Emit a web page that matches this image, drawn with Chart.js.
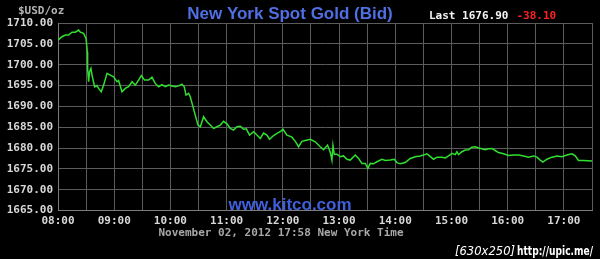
<!DOCTYPE html>
<html>
<head>
<meta charset="utf-8">
<script src="https://cdn.jsdelivr.net/npm/chart.js@4"></script>
<style>
  html, body { margin: 0; padding: 0; background: #000; }
  #wrap { width: 600px; height: 259px; position: relative; background: #000; }
  canvas { display: block; }
</style>
</head>
<body>
<div id="wrap"><canvas id="c" width="600" height="259" style="width:600px;height:259px"></canvas></div>
<script>
// Minutes after 08:00 New York time
const minutes = [
  0, 4.3, 7.8, 11.3, 14.9, 18.5, 22, 23.8, 27.3, 29.9,
  31.3, 31.6, 32.7, 33.7, 35.2, 36.3, 39.1, 41.6, 43.3, 46.2,
  48.7, 52.3, 55.8, 59.3, 63, 64.7, 68.3, 71.8, 75.3, 79,
  82.5, 86, 88.9, 92.4, 96.7, 100.3, 103.8, 107.4, 111, 114.5,
  118, 121.7, 125.2, 128.7, 132.3, 134.8, 136.6, 139.4, 141.2, 143.6,
  146.5, 149.4, 151.9, 155.4, 159, 162.5, 166.1, 169.7, 173.2, 176.7,
  180.4, 183.9, 187.4, 191, 194.6, 198.1, 201, 204.5, 208.8, 212.4,
  215.9, 219.4, 223, 225.8, 230.1, 233.7, 237.2, 240.1, 244.4, 249.7,
  253.3, 256.8, 260.4, 263.9, 269.3, 274.6, 279.9, 283.5, 287.7, 290.6,
  292.4, 293.5, 294.9, 297.8, 301.3, 304.8, 308.4, 311.9, 317.3, 320.8,
  324.4, 328, 330.8, 333.3, 336.8, 340.4, 345.8, 349.3, 354.6, 358.9,
  361.8, 365.3, 370.6, 376, 381.3, 386.6, 390.2, 393.8, 397.3, 400.8,
  404.5, 409.8, 413.3, 416.9, 420.5, 424, 425.8, 427.5, 431.2, 434.7,
  438.2, 441.8, 445.4, 448.9, 452.5, 456, 459.6, 463.2, 466.7, 470.2,
  475.6, 480.9, 486.2, 491.6, 496.9, 502.2, 507.6, 511.2, 514.7, 517.6,
  521.9, 527.2, 532.6, 537.9, 543.2, 548.6, 552.1, 555.6, 560.9, 570
];
// Bid price, USD per ounce
const prices = [
  1705.9, 1706.7, 1707.1, 1707.1, 1707.8, 1707.8, 1708.3, 1707.8, 1707.5, 1706.3,
  1703.1, 1699.1, 1695.9, 1698.3, 1699.1, 1697.5, 1694.7, 1695.0, 1694.3, 1693.5,
  1695.1, 1697.9, 1697.5, 1697.1, 1695.9, 1696.2, 1693.5, 1694.3, 1694.7, 1695.9,
  1695.1, 1696.3, 1697.4, 1696.3, 1696.3, 1697.0, 1695.5, 1694.7, 1695.2, 1694.7,
  1695.1, 1694.9, 1694.7, 1694.9, 1695.3, 1694.7, 1692.7, 1693.1, 1692.3, 1690.3,
  1687.9, 1685.5, 1685.1, 1687.5, 1686.3, 1685.5, 1684.7, 1685.1, 1685.5, 1686.4,
  1685.8, 1684.7, 1684.3, 1685.1, 1685.2, 1684.5, 1684.6, 1683.1, 1683.9, 1683.1,
  1682.3, 1683.6, 1683.1, 1682.1, 1683.0, 1683.5, 1683.9, 1684.5, 1683.1, 1682.6,
  1681.6, 1680.3, 1681.6, 1681.8, 1682.1, 1681.5, 1680.3, 1679.6, 1680.7, 1679.0,
  1677.1, 1680.6, 1678.5, 1678.5, 1677.9, 1678.1, 1677.3, 1677.1, 1678.3, 1677.5,
  1676.3, 1676.3, 1675.1, 1676.3, 1676.2, 1676.7, 1677.3, 1677.0, 1677.1, 1677.3,
  1676.5, 1676.2, 1676.5, 1677.5, 1677.9, 1678.1, 1678.3, 1678.6, 1678.0, 1677.3,
  1677.8, 1677.8, 1677.6, 1678.1, 1678.7, 1678.4, 1679.1, 1678.4, 1679.1, 1679.5,
  1679.6, 1680.2, 1680.3, 1680.0, 1679.8, 1679.6, 1679.8, 1679.9, 1679.4, 1678.9,
  1678.6, 1678.2, 1678.3, 1678.3, 1678.1, 1677.8, 1678.1, 1677.8, 1677.1, 1676.6,
  1677.3, 1677.8, 1678.1, 1677.9, 1678.3, 1678.6, 1678.1, 1677.0, 1677.0, 1676.9
];
const startHour = 8;
const xMin = 0, xMax = 570, xStep = 30;
const yMin = 1665, yMax = 1710, yStep = 5;

const titleText = 'New York Spot Gold (Bid)';
const unitText = '$USD/oz';
const lastText = 'Last 1676.90';
const changeText = '-38.10';
const siteText = 'www.kitco.com';
const dateText = 'November 02, 2012 17:58 New York Time';
const stampA = '[630x250]';
const stampB = 'http://upic.me/';

const mono = 'bold 11px "DejaVu Sans Mono", "Liberation Mono", monospace';

const textPlugin = {
  id: 'texts',
  afterDraw(chart) {
    const ctx = chart.ctx;
    ctx.save();
    ctx.textBaseline = 'alphabetic';
    // Title
    ctx.font = 'bold 17px "Liberation Sans", Arial, sans-serif';
    ctx.fillStyle = '#4f6fe3';
    ctx.textAlign = 'center';
    ctx.fillText(titleText, 290, 18.5);
    // unit
    ctx.font = mono;
    ctx.textAlign = 'left';
    ctx.fillStyle = '#b4b4b4';
    ctx.fillText(unitText, 18, 14);
    // last
    ctx.fillStyle = '#f4f4f4';
    ctx.fillText(lastText, 429, 19);
    ctx.fillStyle = '#ff2222';
    ctx.fillText(changeText, 516.5, 19);
    // site
    ctx.font = 'bold 17px "Liberation Sans", Arial, sans-serif';
    ctx.fillStyle = '#3f5fdc';
    ctx.textAlign = 'center';
    ctx.fillText(siteText, 290, 209.5);
    // date
    ctx.font = mono;
    ctx.fillStyle = '#a8a8a8';
    ctx.textAlign = 'left';
    ctx.fillText(dateText, 158.5, 236);
    // stamp
    ctx.fillStyle = '#ffffff';
    ctx.font = 'italic 13px "DejaVu Sans", sans-serif';
    let w = ctx.measureText(stampA).width;
    ctx.save();
    ctx.translate(455, 255);
    ctx.scale(60 / w, 1);
    ctx.fillText(stampA, 0, 0);
    ctx.restore();
    ctx.font = 'bold 12px "DejaVu Sans", sans-serif';
    w = ctx.measureText(stampB).width;
    ctx.save();
    ctx.translate(517, 255);
    ctx.scale(76 / w, 1);
    ctx.fillText(stampB, 0, 0);
    ctx.restore();
    ctx.restore();
  }
};

const bgPlugin = {
  id: 'bg',
  beforeDraw(chart) {
    const ctx = chart.ctx;
    ctx.save();
    ctx.fillStyle = '#000';
    ctx.fillRect(0, 0, chart.width, chart.height);
    ctx.restore();
  }
};

new Chart(document.getElementById('c'), {
  type: 'line',
  data: {
    datasets: [{
      data: minutes.map((m, i) => ({ x: m, y: prices[i] })),
      borderColor: '#2fe02f',
      borderWidth: 1.5,
      pointRadius: 0,
      tension: 0,
      fill: false
    }]
  },
  options: {
    responsive: false,
    devicePixelRatio: 1,
    animation: false,
    layout: { padding: { left: 0, right: 8, top: 23, bottom: 28.5 } },
    plugins: { legend: { display: false }, tooltip: { enabled: false } },
    scales: {
      x: {
        type: 'linear',
        min: xMin, max: xMax,
        afterFit(s) { s.height = 20; },
        afterBuildTicks(s) {
          const t = [];
          for (let v = xMin; v <= xMax; v += xStep) t.push({ value: v });
          s.ticks = t;
        },
        ticks: {
          autoSkip: false, maxRotation: 0, minRotation: 0, padding: 4,
          color: '#d8d8d8',
          font: { family: '"DejaVu Sans Mono", "Liberation Mono", monospace', size: 11, weight: 'bold' },
          callback(v) {
            if (v % 60 !== 0) return '';
            const h = startHour + v / 60;
            return (h < 10 ? '0' : '') + h + ':00';
          }
        },
        grid: { color: '#5c5c5c', lineWidth: 1, drawTicks: false },
        border: { color: '#7c7c7c', width: 1 }
      },
      y: {
        min: yMin, max: yMax,
        afterFit(s) { s.width = 58; },
        afterBuildTicks(s) {
          const t = [];
          for (let v = yMin; v <= yMax; v += yStep) t.push({ value: v });
          s.ticks = t;
        },
        ticks: {
          padding: 5,
          color: '#d8d8d8',
          font: { family: '"DejaVu Sans Mono", "Liberation Mono", monospace', size: 11, weight: 'bold' },
          callback(v) { return v.toFixed(2); }
        },
        grid: { color: '#5c5c5c', lineWidth: 1, drawTicks: false },
        border: { color: '#7c7c7c', width: 1 }
      }
    }
  },
  plugins: [bgPlugin, textPlugin]
});
</script>
</body>
</html>
